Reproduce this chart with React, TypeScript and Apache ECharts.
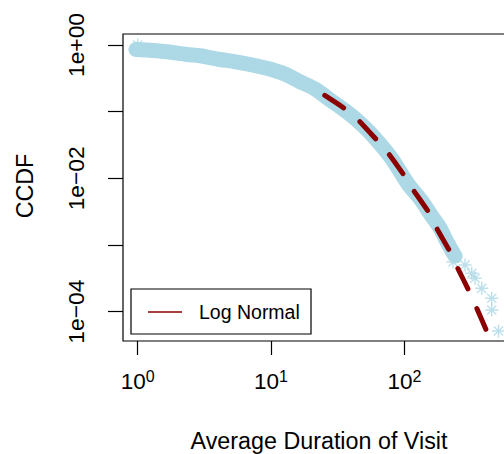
import { useEffect, useRef } from "react";
import * as echarts from "echarts";

// Dense stretch of the empirical CCDF (duration, CCDF)
const bandDuration = [0.97, 1.3, 1.66, 2.34, 2.93, 4.14, 5.19, 6.96, 9.33, 12.7, 16.5, 21.4, 27.7, 35.9, 44.9, 55.2, 73.7, 86.6, 105.6, 133.3, 158.5, 185.1, 208.9, 239.8];
const bandCcdf = [0.856, 0.827, 0.793, 0.72, 0.689, 0.606, 0.569, 0.51, 0.447, 0.367, 0.281, 0.219, 0.15, 0.104, 0.0724, 0.0485, 0.0248, 0.0158, 0.00842, 0.00473, 0.00282, 0.0018, 0.00111, 0.000684];

// Sparse observations drawn one by one
const sparseDuration = [1.0, 231.6, 284.9, 319.9, 338.8, 380.2, 451.9, 451.9, 508];
const sparseCcdf = [1.0, 0.000556, 0.000501, 0.000376, 0.000317, 0.000224, 0.000159, 0.000106, 0.0000513];

// Fitted log-normal CCDF
const fitDuration = [25.3, 36.3, 45.1, 62.0, 75.8, 101.1, 116.7, 153.8, 174.8, 219.9, 249.5, 306.9, 344.6, 418.8];
const fitCcdf = [0.175, 0.1085, 0.075, 0.0376, 0.0237, 0.01058, 0.00668, 0.00299, 0.00178, 0.000793, 0.000463, 0.000199, 0.000119, 0.0000484];

// Decade exponents for ticks and labels
const xTickPowers = [0, 1, 2];
const yTickPowers = [0, -1, -2, -3, -4];
const yLabelPowers = [0, -2, -4];

const FONT = "'Liberation Sans', Arial, Helvetica, sans-serif";
const LIGHTBLUE = "#ADD8E6";
const DARKRED = "#8B0000";
const ASTERISK = "path://M5 0L5 10M0 5L10 5M1.464 1.464L8.536 8.536M1.464 8.536L8.536 1.464";

const toLog = (xs: number[], ys: number[]) => xs.map((x, i) => [Math.log10(x), Math.log10(ys[i])]);

const yLabel = (v: number) => (v === 0 ? "1e+00" : `1e\u2212${String(Math.abs(v)).padStart(2, "0")}`);

export default function App() {
  const ref = useRef<HTMLDivElement>(null);

  useEffect(() => {
    if (!ref.current) return;
    const chart = echarts.init(ref.current, null, { renderer: "svg" });
    const bandPts = toLog(bandDuration, bandCcdf);
    const sparsePts = toLog(sparseDuration, sparseCcdf);
    const fitPts = toLog(fitDuration, fitCcdf);

    chart.setOption({
      animation: false,
      backgroundColor: "#fff",
      textStyle: { fontFamily: FONT },
      // the plot frame runs past the right edge of the window
      grid: { left: 123, top: 34, width: 397, height: 307, show: true, borderColor: "#000", borderWidth: 1.2, backgroundColor: "transparent" },
      xAxis: {
        type: "value",
        min: -0.11,
        max: 2.867,
        axisLine: { show: false, onZero: false },
        splitLine: { show: false },
        axisTick: { show: true, customValues: xTickPowers, length: 14, lineStyle: { color: "#000", width: 1.2 } },
        axisLabel: {
          customValues: xTickPowers,
          margin: 27,
          formatter: (v: number) => `{b|10}{s|${v}}`,
          rich: {
            b: { fontSize: 22.5, fontFamily: FONT, color: "#000", lineHeight: 22, padding: [4, 0, 0, 0] },
            s: { fontSize: 16, fontFamily: FONT, color: "#000", lineHeight: 16, verticalAlign: "top" },
          },
        },
      },
      yAxis: {
        type: "value",
        min: -4.44,
        max: 0.165,
        axisLine: { show: false, onZero: false },
        splitLine: { show: false },
        axisTick: { show: true, customValues: yTickPowers, length: 15, lineStyle: { color: "#000", width: 1.2 } },
        axisLabel: {
          customValues: yLabelPowers,
          rotate: 90,
          margin: 36,
          fontSize: 22.8,
          fontFamily: FONT,
          color: "#000",
          formatter: (v: number) => yLabel(v),
        },
      },
      series: [
        {
          name: "Observed",
          type: "line",
          data: bandPts,
          symbol: "none",
          smooth: 0.3,
          silent: true,
          z: 1,
          lineStyle: { color: LIGHTBLUE, width: 15, cap: "round", join: "round" },
        },
        {
          name: "Observed points",
          type: "scatter",
          data: [...bandPts, ...sparsePts],
          symbol: ASTERISK,
          symbolSize: 13,
          clip: true,
          silent: true,
          z: 2,
          itemStyle: { color: "none", borderColor: LIGHTBLUE, borderWidth: 1.4 },
        },
        {
          name: "Log Normal",
          type: "line",
          data: fitPts,
          symbol: "none",
          smooth: 0.2,
          silent: true,
          z: 3,
          lineStyle: { color: DARKRED, width: 5, type: [22.5, 21.8], cap: "round" },
        },
      ],
      graphic: [
        {
          type: "rect",
          z: 10,
          shape: { x: 131, y: 289, width: 180, height: 45 },
          style: { fill: "#fff", stroke: "#000", lineWidth: 1.2 },
        },
        {
          type: "line",
          z: 11,
          shape: { x1: 148, y1: 312, x2: 182, y2: 312 },
          style: { stroke: DARKRED, lineWidth: 1.5 },
        },
        {
          type: "text",
          z: 11,
          x: 199,
          y: 312,
          style: { text: "Log Normal", fontSize: 19.5, fontFamily: FONT, fill: "#000", align: "left", verticalAlign: "middle" },
        },
        {
          type: "text",
          x: 319,
          y: 441,
          style: { text: "Average Duration of Visit", fontSize: 23.3, fontFamily: FONT, fill: "#000", align: "center", verticalAlign: "middle" },
        },
        {
          type: "text",
          x: 24.5,
          y: 186,
          rotation: Math.PI / 2,
          style: { text: "CCDF", fontSize: 23.3, fontFamily: FONT, fill: "#000", align: "center", verticalAlign: "middle" },
        },
      ],
    });

    return () => chart.dispose();
  }, []);

  return <div ref={ref} style={{ position: "fixed", left: 0, top: 0, width: 520, height: 454, background: "#fff" }} />;
}
